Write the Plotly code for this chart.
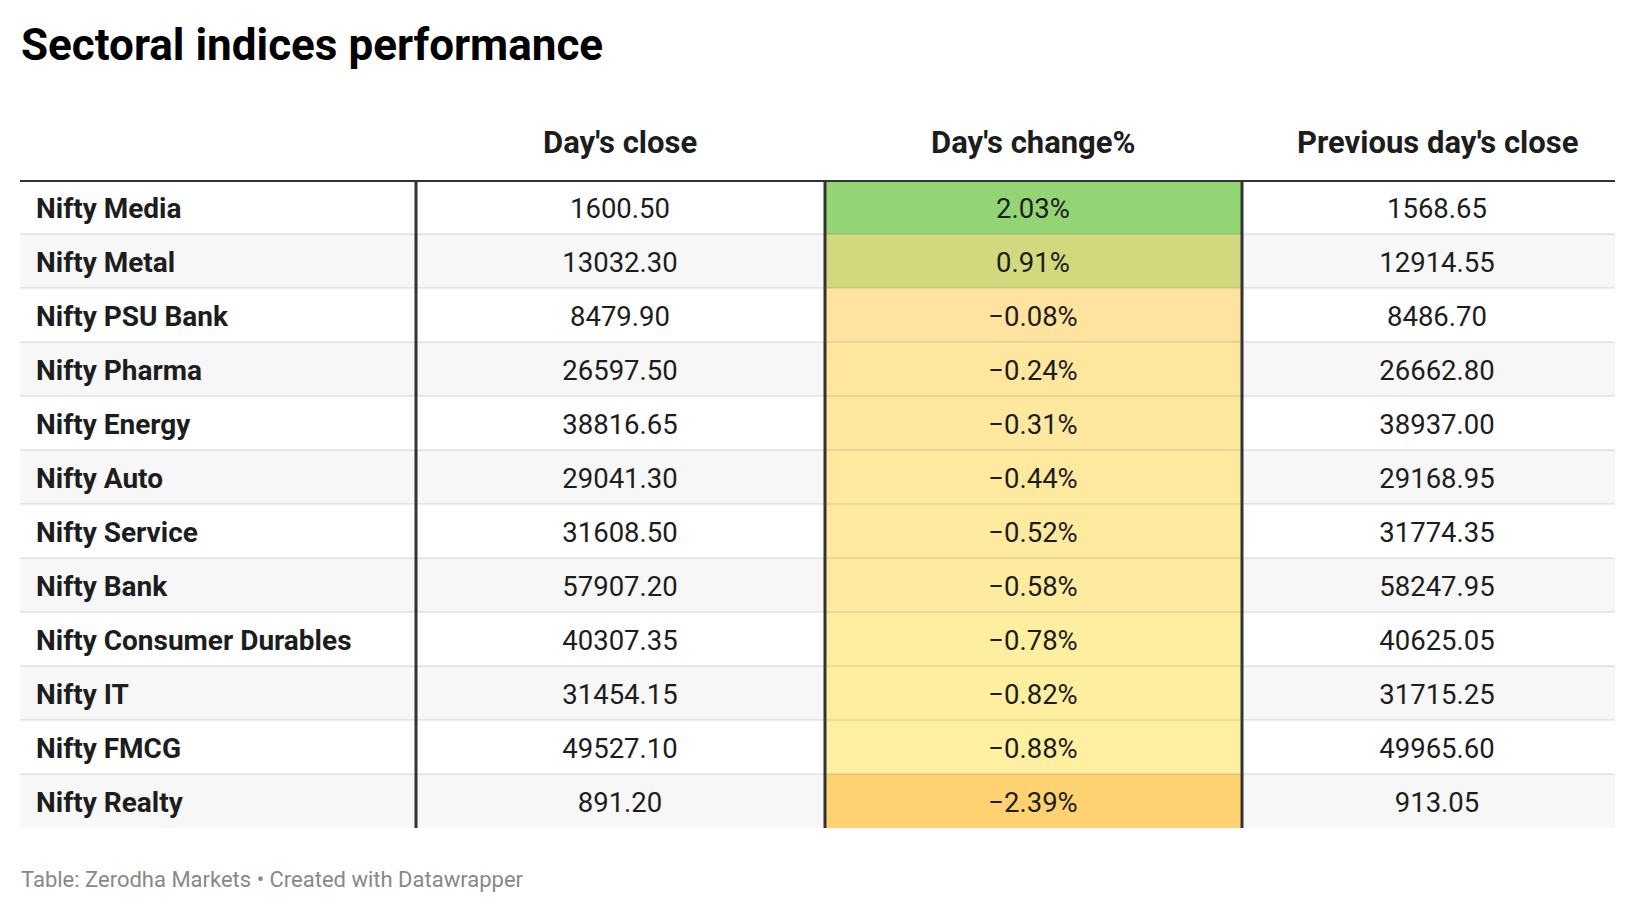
import plotly.graph_objects as go

# --- data ---
indices = [
    "Nifty Media", "Nifty Metal", "Nifty PSU Bank", "Nifty Pharma", "Nifty Energy",
    "Nifty Auto", "Nifty Service", "Nifty Bank", "Nifty Consumer Durables",
    "Nifty IT", "Nifty FMCG", "Nifty Realty",
]
days_close = [1600.50, 13032.30, 8479.90, 26597.50, 38816.65, 29041.30,
              31608.50, 57907.20, 40307.35, 31454.15, 49527.10, 891.20]
days_change = [2.03, 0.91, -0.08, -0.24, -0.31, -0.44, -0.52, -0.58, -0.78, -0.82, -0.88, -2.39]
prev_close = [1568.65, 12914.55, 8486.70, 26662.80, 38937.00, 29168.95,
              31774.35, 58247.95, 40625.05, 31715.25, 49965.60, 913.05]
headers = ["Day's close", "Day's change%", "Previous day's close"]

title = "Sectoral indices performance"
footer = "Table: Zerodha Markets • Created with Datawrapper"

# --- layout constants (pixels on a 1636x914 canvas) ---
W, H = 1636, 914
col_edges = [20, 416, 825, 1242, 1615]
text_x = [36, 620, 1033, 1437]
table_top, table_bottom = 180, 828
header_y = 143
text_dy = 0.08  # nudge cell text down so it sits centred in the row

FONT = "Roboto"
INK = "#1d1d1d"

n = len(indices)
rows = list(range(n))
text_rows = [r + text_dy for r in rows]


def fmt_num(v):
    return f"{v:.2f}"


def fmt_pct(v):
    return f"{v:.2f}%".replace("-", "\u2212")


# colour stops for the heat column (value -> colour)
heat_stops = [(-2.39, "#fed271"), (-0.88, "#fef0a0"), (-0.08, "#fee39e"),
              (0.91, "#d1d87e"), (2.03, "#93d574")]
lo, hi = min(days_change), max(days_change)
heat_scale = [[(v - lo) / (hi - lo), c] for v, c in heat_stops]

fig = go.Figure()

# zebra striping across the whole table
fig.add_trace(go.Heatmap(
    x=[col_edges[0], col_edges[-1]], y=rows,
    z=[[i % 2] for i in rows],
    colorscale=[[0, "#ffffff"], [1, "#f7f7f7"]],
    zmin=0, zmax=1, showscale=False, hoverinfo="skip",
))

# heat-coloured change column
fig.add_trace(go.Heatmap(
    x=[col_edges[2], col_edges[3]], y=rows,
    z=[[v] for v in days_change],
    colorscale=heat_scale, zmin=lo, zmax=hi,
    showscale=False, hoverinfo="skip",
))

# cell texts
fig.add_trace(go.Scatter(
    x=[text_x[0]] * n, y=text_rows, mode="text", text=indices,
    textposition="middle right",
    textfont=dict(family=FONT, size=28, color=INK, weight="bold"),
    hoverinfo="skip",
))
for col, vals in ((1, [fmt_num(v) for v in days_close]),
                  (2, [fmt_pct(v) for v in days_change]),
                  (3, [fmt_num(v) for v in prev_close])):
    fig.add_trace(go.Scatter(
        x=[text_x[col]] * n, y=text_rows, mode="text", text=vals,
        textposition="middle center",
        textfont=dict(family=FONT, size=27.5, color=INK),
        hoverinfo="skip",
    ))

shapes = []
# row separators
for i in rows[:-1]:
    shapes.append(dict(type="line", xref="x", yref="y",
                       x0=col_edges[0], x1=col_edges[-1], y0=i + 0.5, y1=i + 0.5,
                       line=dict(color="rgba(0,0,0,0.08)", width=2), layer="above"))
# column borders
for xe in col_edges[1:-1]:
    shapes.append(dict(type="line", xref="x", yref="y",
                       x0=xe, x1=xe, y0=-0.5, y1=n - 0.5,
                       line=dict(color="#333333", width=3), layer="above"))
# header rule
shapes.append(dict(type="line", xref="x", yref="y",
                   x0=col_edges[0], x1=col_edges[-1], y0=-0.5, y1=-0.5,
                   line=dict(color="#333333", width=4), layer="above"))

annotations = [
    dict(text=title, x=19 / W, y=1 - 45 / H, xref="paper", yref="paper",
         xanchor="left", yanchor="middle", showarrow=False,
         font=dict(family=FONT, size=44, color="#000000", weight="bold")),
    dict(text=footer, x=19 / W, y=1 - 879 / H, xref="paper", yref="paper",
         xanchor="left", yanchor="middle", showarrow=False,
         font=dict(family=FONT, size=22, color="#888888")),
]
for j, h in enumerate(headers):
    annotations.append(dict(
        text=h, x=text_x[j + 1] / W, y=1 - header_y / H, xref="paper", yref="paper",
        xanchor="center", yanchor="middle", showarrow=False,
        font=dict(family=FONT, size=31, color=INK, weight="bold")))

fig.update_layout(
    width=W, height=H,
    margin=dict(l=0, r=0, t=0, b=0),
    paper_bgcolor="#ffffff", plot_bgcolor="#ffffff",
    showlegend=False,
    xaxis=dict(range=[0, W], domain=[0, 1], visible=False, fixedrange=True),
    yaxis=dict(range=[n - 0.5, -0.5], domain=[1 - table_bottom / H, 1 - table_top / H],
               visible=False, fixedrange=True),
    shapes=shapes,
    annotations=annotations,
)

# drop the browser's default body margin so the canvas sits at the page origin
fig.write_html("out.html", config={"displayModeBar": False},
               post_script="document.body.style.margin='0';document.body.style.overflow='hidden';")
